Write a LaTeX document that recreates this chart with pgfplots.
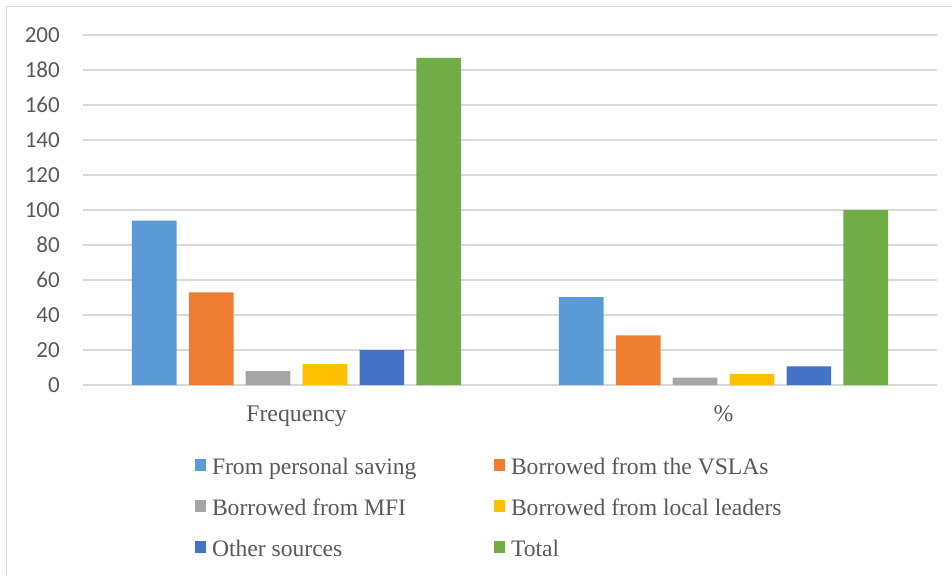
\documentclass[border=0pt]{standalone}
\usepackage{fontspec}
\setmainfont{Liberation Serif}
\newfontfamily\calibri{Carlito}
\usepackage{pgfplots}
\pgfplotsset{compat=1.18}

\definecolor{cBlue}{HTML}{5B9BD5}
\definecolor{cOrange}{HTML}{ED7D31}
\definecolor{cGray}{HTML}{A5A5A5}
\definecolor{cGold}{HTML}{FFC000}
\definecolor{cDark}{HTML}{4472C4}
\definecolor{cGreen}{HTML}{70AD47}
\definecolor{gridgray}{HTML}{D9D9D9}
\definecolor{textgray}{HTML}{595959}

% fixed-width legend text so both legend columns line up
\newcommand{\entry}[1]{\makebox[276pt][l]{#1}}

\begin{document}
\begin{tikzpicture}
\useasboundingbox (0pt,0pt) rectangle (952pt,-575pt);
% chart frame
\draw[gridgray, line width=1.3pt] (6.7pt,-575pt) -- (6.7pt,-6.7pt) -- (952pt,-6.7pt);

\begin{axis}[
  at={(83pt,-385pt)}, anchor=south west,
  scale only axis, width=854pt, height=350pt,
  ybar=12.2pt, bar width=44.7pt,
  xmin=-0.5, xmax=1.5, ymin=0, ymax=200,
  xtick={0,1}, xticklabels={Frequency, \%},
  ytick={0,20,...,200},
  axis line style={draw=none},
  major tick length=0pt,
  ymajorgrids, grid style={gridgray, line width=1.3pt},
  /pgf/number format/assume math mode=true,
  yticklabel style={font=\calibri\fontsize{23}{23}\selectfont, text=textgray,
    anchor=east, inner sep=0pt, xshift=-23pt},
  xticklabel style={font=\fontsize{23.8}{24}\selectfont, text=textgray,
    anchor=base, inner sep=0pt, yshift=-36pt},
  legend columns=2,
  legend style={draw=none, fill=none, inner sep=0pt, outer sep=0pt,
    at={(axis description cs:0.13115,-0.20571)}, anchor=north west,
    font=\fontsize{23.6}{24}\selectfont, text=textgray,
    cells={anchor=base west},
    nodes={inner sep=0pt, text height=17pt, text depth=6pt},
    column sep=6pt, row sep=18pt},
  legend image code/.code={\fill[#1, draw=none] (0pt,3pt) rectangle (11pt,15pt);},
]
\addplot[fill=cBlue, draw=none]   coordinates {(0,94) (1,50.27)};
\addplot[fill=cOrange, draw=none] coordinates {(0,53) (1,28.34)};
\addplot[fill=cGray, draw=none]   coordinates {(0,8) (1,4.28)};
\addplot[fill=cGold, draw=none]   coordinates {(0,12) (1,6.42)};
\addplot[fill=cDark, draw=none]   coordinates {(0,20) (1,10.70)};
\addplot[fill=cGreen, draw=none]  coordinates {(0,187) (1,100)};
\legend{\entry{From personal saving}, \entry{Borrowed from the VSLAs},
        \entry{Borrowed from MFI}, \entry{Borrowed from local leaders},
        \entry{Other sources}, \entry{Total}}
\end{axis}
\end{tikzpicture}
\end{document}
